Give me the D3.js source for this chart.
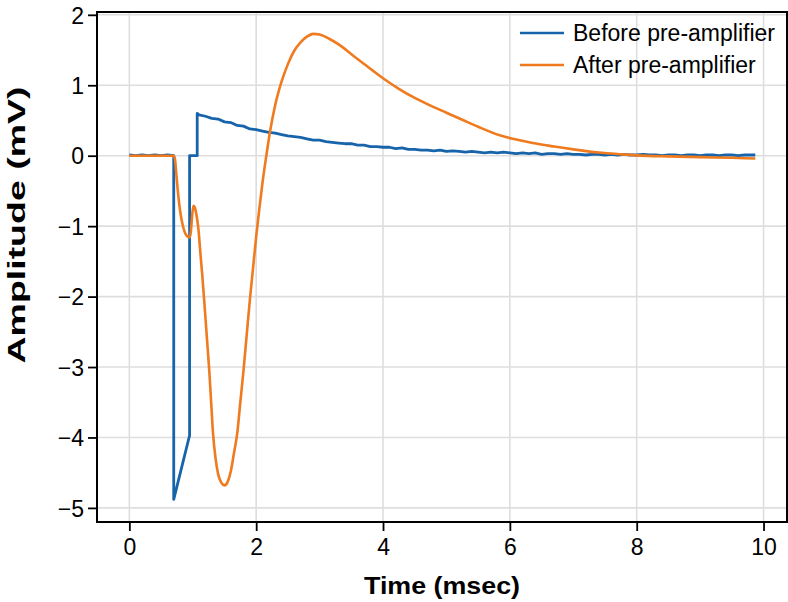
<!DOCTYPE html>
<meta charset="utf-8">
<style>
  body { margin: 0; background: #fff; }
  .grid line { stroke: #dedede; stroke-width: 1.6; }
  .axis text { font-family: "Liberation Sans", Arial, sans-serif; font-size: 23px; fill: #000; }
  .axis line, .axis path { stroke: #000; stroke-width: 1.8; }
  .label { font-family: "Liberation Sans", Arial, sans-serif; font-weight: bold; font-size: 24px; }
  .legend text { font-family: "Liberation Sans", Arial, sans-serif; font-size: 23px; }
</style>
<svg width="788" height="602"></svg>
<script src="https://d3js.org/d3.v7.min.js"></script>
<script>
// data (time in msec, amplitude in mV)
var beforeTime = [0, 0.1, 0.2, 0.3, 0.4, 0.5, 0.6, 0.7, 0.7, 0.95, 0.95, 1.07, 1.07,
  1.1, 1.2, 1.3, 1.4, 1.5, 1.6, 1.7, 1.8, 1.9, 2.0, 2.1, 2.2, 2.3, 2.4, 2.5, 2.6, 2.7, 2.8, 2.9,
  3.0, 3.1, 3.2, 3.3, 3.4, 3.5, 3.6, 3.7, 3.8, 3.9, 4.0, 4.1, 4.2, 4.3, 4.4, 4.5, 4.6, 4.7, 4.8, 4.9,
  5.0, 5.1, 5.2, 5.3, 5.4, 5.5, 5.6, 5.7, 5.8, 5.9, 6.0, 6.1, 6.2, 6.3, 6.4, 6.5, 6.6, 6.7, 6.8, 6.9,
  7.0, 7.1, 7.2, 7.3, 7.4, 7.5, 7.6, 7.7, 7.8, 7.9, 8.0, 8.1, 8.2, 8.3, 8.4, 8.5, 8.6, 8.7, 8.8, 8.9,
  9.0, 9.1, 9.2, 9.3, 9.4, 9.5, 9.6, 9.7, 9.8, 9.87];
var beforeAmp = [0.01, 0.0, 0.01, 0.0, 0.01, 0.0, 0.01, 0.0, -4.88, -3.97, 0.0, 0.0, 0.6,
  0.58, 0.56, 0.53, 0.52, 0.48, 0.47, 0.43, 0.42, 0.38, 0.37, 0.35, 0.33, 0.32, 0.30, 0.28, 0.27, 0.26, 0.24, 0.22,
  0.22, 0.20, 0.19, 0.18, 0.17, 0.17, 0.15, 0.15, 0.13, 0.13, 0.12, 0.12, 0.10, 0.11, 0.09, 0.09, 0.08, 0.08, 0.07, 0.08,
  0.06, 0.07, 0.06, 0.05, 0.06, 0.05, 0.04, 0.05, 0.04, 0.05, 0.04, 0.03, 0.04, 0.03, 0.04, 0.02, 0.03, 0.03, 0.02, 0.03,
  0.02, 0.02, 0.01, 0.02, 0.02, 0.01, 0.02, 0.01, 0.02, 0.01, 0.01, 0.02, 0.01, 0.01, 0.00, 0.01, 0.01, 0.00, 0.01, 0.01,
  0.00, 0.01, 0.01, 0.00, 0.01, 0.01, 0.00, 0.01, 0.01, 0.01];

var afterTime = [0, 0.5, 0.7, 0.72, 0.74, 0.77, 0.8, 0.84, 0.88, 0.92, 0.95, 0.97, 0.99, 1.01, 1.03, 1.06,
  1.09, 1.12, 1.15, 1.18, 1.22, 1.26, 1.29, 1.32, 1.36, 1.4, 1.45, 1.5, 1.55, 1.6, 1.65, 1.7, 1.75,
  1.8, 1.85, 1.9, 1.95, 2.0, 2.05, 2.1, 2.16, 2.22, 2.3, 2.4, 2.5, 2.6, 2.7, 2.8, 2.9, 3.0, 3.15,
  3.3, 3.53, 3.75, 4.0, 4.25, 4.5, 4.75, 5.0, 5.25, 5.5, 5.84, 6.1, 6.36, 6.7, 7.0, 7.4, 7.75, 8.0,
  8.5, 9.0, 9.5, 9.87];
var afterAmp = [0, 0, 0, -0.05, -0.25, -0.55, -0.78, -0.98, -1.1, -1.15, -1.16, -1.08, -0.85, -0.71, -0.73, -0.85,
  -1.05, -1.38, -1.7, -2.05, -2.55, -3.05, -3.5, -3.95, -4.3, -4.52, -4.64, -4.68, -4.63, -4.48, -4.22, -3.95, -3.5,
  -3.05, -2.55, -2.05, -1.6, -1.15, -0.75, -0.38, 0.0, 0.35, 0.72, 1.05, 1.3, 1.49, 1.61, 1.69, 1.73, 1.72, 1.66,
  1.58, 1.42, 1.27, 1.1, 0.95, 0.82, 0.71, 0.61, 0.51, 0.41, 0.29, 0.23, 0.18, 0.13, 0.09, 0.045, 0.02, 0.005,
  -0.01, -0.02, -0.03, -0.04];

var seriesNames = ["Before pre-amplifier", "After pre-amplifier"];
var seriesColors = ["#1764ab", "#f07a1e"];
var xTicks = [0, 2, 4, 6, 8, 10];
var yTicks = [2, 1, 0, -1, -2, -3, -4, -5];

var plotLeft = 97, plotRight = 787, plotTop = 12, plotBottom = 522;

var svg = d3.select("svg");

var x = d3.scaleLinear().domain([-0.51, 10.37]).range([plotLeft, plotRight]);
var y = d3.scaleLinear().domain([-5.2, 2.04]).range([plotBottom, plotTop]);

// grid
var grid = svg.append("g").attr("class", "grid");
grid.selectAll(".gx").data(xTicks).enter().append("line")
    .attr("x1", function(d) { return x(d); }).attr("x2", function(d) { return x(d); })
    .attr("y1", plotTop).attr("y2", plotBottom);
grid.selectAll(".gy").data(yTicks).enter().append("line")
    .attr("y1", function(d) { return y(d); }).attr("y2", function(d) { return y(d); })
    .attr("x1", plotLeft).attr("x2", plotRight);

var line = d3.line()
    .x(function(d) { return x(d[0]); })
    .y(function(d) { return y(d[1]); });

var smooth = d3.line()
    .curve(d3.curveMonotoneX)
    .x(function(d) { return x(d[0]); })
    .y(function(d) { return y(d[1]); });

var before = d3.zip(beforeTime, beforeAmp);
var after = d3.zip(afterTime, afterAmp);

svg.append("path").datum(before)
    .attr("fill", "none").attr("stroke", seriesColors[0])
    .attr("stroke-width", 2.8).attr("stroke-linejoin", "round")
    .attr("d", line);

svg.append("path").datum(after)
    .attr("fill", "none").attr("stroke", seriesColors[1])
    .attr("stroke-width", 2.6).attr("stroke-linejoin", "round")
    .attr("d", smooth);

// frame
svg.append("rect")
    .attr("x", plotLeft).attr("y", plotTop)
    .attr("width", plotRight - plotLeft).attr("height", plotBottom - plotTop)
    .attr("fill", "none").attr("stroke", "#000").attr("stroke-width", 2);

// axes
var xAxis = svg.append("g").attr("class", "axis")
    .attr("transform", "translate(0," + plotBottom + ")")
    .call(d3.axisBottom(x).tickValues(xTicks).tickSize(9).tickPadding(8).tickSizeOuter(0));
xAxis.select(".domain").remove();

var yAxis = svg.append("g").attr("class", "axis")
    .attr("transform", "translate(" + plotLeft + ",0)")
    .call(d3.axisLeft(y).tickValues(yTicks).tickSize(9).tickPadding(4).tickSizeOuter(0));
yAxis.select(".domain").remove();
yAxis.selectAll("text").attr("dy", "0.36em");

// labels
svg.append("text").attr("class", "label")
    .attr("x", 442).attr("y", 594)
    .attr("text-anchor", "middle")
    .attr("textLength", 156).attr("lengthAdjust", "spacingAndGlyphs")
    .text("Time (msec)");

svg.append("text").attr("class", "label")
    .attr("transform", "translate(25,225) rotate(-90)")
    .attr("text-anchor", "middle")
    .attr("textLength", 277).attr("lengthAdjust", "spacingAndGlyphs")
    .text("Amplitude (mV)");

// legend
var legend = svg.selectAll(".legend")
    .data(seriesNames)
    .enter().append("g")
    .attr("class", "legend")
    .attr("transform", function(d, i) { return "translate(520," + (33 + i * 32) + ")"; });

legend.append("line")
    .attr("x1", 0).attr("x2", 44)
    .attr("stroke", function(d, i) { return seriesColors[i]; })
    .attr("stroke-width", 2.6);

legend.append("text")
    .attr("x", 53).attr("y", 0).attr("dy", "0.35em")
    .text(function(d) { return d; });
</script>
